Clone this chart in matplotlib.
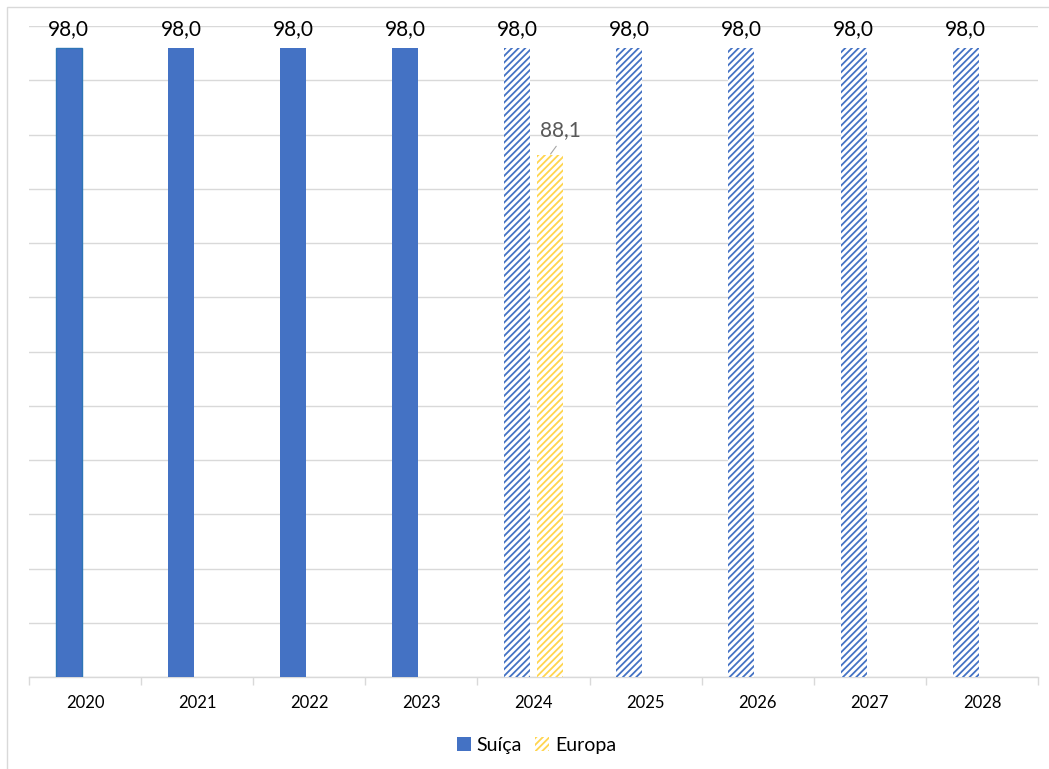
import matplotlib
matplotlib.use("Agg")
import matplotlib.pyplot as plt
from matplotlib.patches import Rectangle, Patch
import numpy as np

# ---- data ----
years = ["2020", "2021", "2022", "2023", "2024", "2025", "2026", "2027", "2028"]
suica = [98.0, 98.0, 98.0, 98.0, 98.0, 98.0, 98.0, 98.0, 98.0]
europa = [None, None, None, None, 88.1, None, None, None, None]
forecast_from = "2024"

# ---- style ----
BLUE = "#4472C4"
YELLOW = "#FFD54F"
GRID = "#D9D9D9"
plt.rcParams["font.family"] = ["Lato", "DejaVu Sans"]
plt.rcParams["hatch.linewidth"] = 1.3

W, H = 1049, 769
fig = plt.figure(figsize=(W / 100, H / 100), dpi=100)
ax = fig.add_axes([29 / W, 1 - 677 / H, (1038 - 29) / W, (677 - 26) / H])

x = np.arange(len(years))
bw = 0.232
off = 0.145
fidx = years.index(forecast_from)

for i, v in enumerate(suica):
    if i < fidx:
        ax.bar(x[i] - off, v, bw, color=BLUE,
               edgecolor=("#2E75B6" if i == 0 else BLUE), linewidth=(1.0 if i == 0 else 0), zorder=3)
    else:
        ax.bar(x[i] - off, v, bw, facecolor="white", edgecolor=BLUE,
               hatch="/////", linewidth=0, zorder=3)
    ax.annotate(f"{v:.1f}".replace(".", ","), (x[i] - off, v),
                xytext=(0, 9), textcoords="offset pixels",
                ha="center", va="bottom", fontsize=15, color="#000000", zorder=5)

for i, v in enumerate(europa):
    if v is None:
        continue
    ax.bar(x[i] + off, v, bw, facecolor="white", edgecolor=YELLOW,
           hatch="/////", linewidth=0, zorder=3)
    ax.annotate(f"{v:.1f}".replace(".", ","), (x[i] + off, v),
                xytext=(11, 25), textcoords="offset pixels",
                ha="center", va="center", fontsize=15, color="#595959", zorder=5,
                arrowprops=dict(arrowstyle="-", color="#A6A6A6", lw=0.8,
                                shrinkA=3, shrinkB=1, relpos=(0.5, 0.0)))

ax.set_ylim(40, 100)
ax.set_xlim(-0.5, len(years) - 0.5)
ax.set_yticks(np.arange(40, 101, 5))
ax.yaxis.grid(True, color=GRID, linewidth=1.0, zorder=0)
ax.tick_params(axis="y", left=False, labelleft=False)
ax.set_xticks(x)
ax.set_xticklabels(years, fontsize=12, color="#000000")
ax.tick_params(axis="x", which="major", length=0, pad=13)
ax.set_xticks(np.arange(-0.5, len(years), 1.0), minor=True)
ax.tick_params(axis="x", which="minor", length=6, color=GRID, width=1)
for s in ["top", "right", "left"]:
    ax.spines[s].set_visible(False)
ax.spines["bottom"].set_color(GRID)
ax.spines["bottom"].set_linewidth(1.0)
ax.set_axisbelow(True)

handles = [Patch(facecolor=BLUE, edgecolor=BLUE, linewidth=0, label="Suíça"),
           Patch(facecolor="white", edgecolor=YELLOW, hatch="/////", linewidth=0, label="Europa")]
fig.legend(handles=handles, loc="center", bbox_to_anchor=(536.5 / W, 1 - 745 / H),
           ncol=2, frameon=False, fontsize=14, handlelength=0.7, handleheight=0.7,
           handletextpad=0.3, columnspacing=0.7)

fig.patches.append(Rectangle((7 / W, -0.05), 1.1, (769 - 7) / H + 0.05,
                             transform=fig.transFigure, fill=False,
                             edgecolor=GRID, linewidth=1.0))

fig.savefig("out.png", dpi=100)
